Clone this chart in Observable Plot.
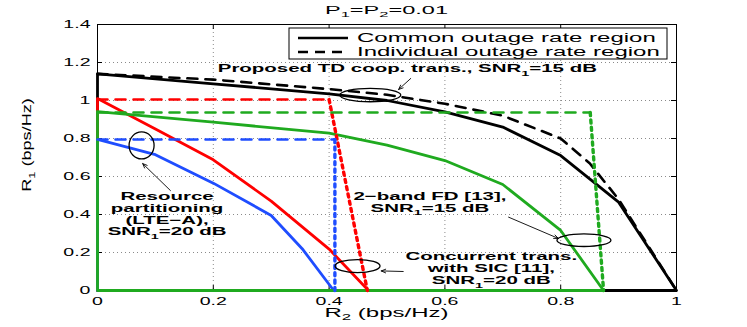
<!DOCTYPE html>
<html><head><meta charset="utf-8">
<script src="https://cdn.jsdelivr.net/npm/d3@7"></script>
<script src="https://cdn.jsdelivr.net/npm/@observablehq/plot@0.6"></script>
<style>body{margin:0;background:#fff} #chart{width:747px;height:327px}</style>
</head><body><div id="chart"></div>
<script>
// ---------- data ----------
const xTicks = [0, 0.2, 0.4, 0.6, 0.8, 1];
const xTickLabels = ["0", "0.2", "0.4", "0.6", "0.8", "1"];
const yTicks = [0, 0.2, 0.4, 0.6, 0.8, 1, 1.2, 1.4];
const yTickLabels = ["0", "0.2", "0.4", "0.6", "0.8", "1", "1.2", "1.4"];

// Proposed TD cooperative transmission (black)
const tdCommonR2 = [0, 0, 0.2, 0.4, 0.5, 0.6, 0.7, 0.8, 0.9, 1, 0];
const tdCommonR1 = [0, 1.14, 1.088, 1.035, 1.0, 0.94, 0.86, 0.71, 0.465, 0, 0];
const tdIndivR2 = [0, 0.2, 0.4, 0.5, 0.6, 0.7, 0.8, 0.85, 0.9, 1];
const tdIndivR1 = [1.14, 1.11, 1.06, 1.03, 0.983, 0.92, 0.80, 0.67, 0.48, 0];

// Concurrent transmission with SIC (red)
const sicCommonR2 = [0, 0, 0.1, 0.2, 0.3, 0.4, 0.468, 0];
const sicCommonR1 = [0, 1.01, 0.85, 0.688, 0.47, 0.218, 0, 0];
const sicIndivHR2 = [0, 0.4];
const sicIndivHR1 = [1.005, 1.005];
const sicIndivVR2 = [0.4, 0.466];
const sicIndivVR1 = [1.005, 0];

// Resource partitioning (blue)
const rpCommonR2 = [0, 0, 0.1, 0.2, 0.3, 0.3535, 0.408, 0];
const rpCommonR1 = [0, 0.795, 0.715, 0.565, 0.395, 0.22, 0, 0];
const rpIndivHR2 = [0, 0.41];
const rpIndivHR1 = [0.795, 0.795];
const rpIndivVR2 = [0.41, 0.41];
const rpIndivVR1 = [0.795, 0];

// 2-band FD (green)
const fdCommonR2 = [0, 0, 0.2, 0.4, 0.5, 0.6, 0.7, 0.8, 0.874, 0];
const fdCommonR1 = [0, 0.942, 0.886, 0.828, 0.765, 0.684, 0.558, 0.316, 0, 0];
const fdIndivHR2 = [0, 0.851];
const fdIndivHR1 = [0.937, 0.937];
const fdIndivVR2 = [0.851, 0.874];
const fdIndivVR1 = [0.937, 0];

// texts
const titleParts = [["P"], ["1", 1], ["=P"], ["2", 1], ["=0.01"]];
const xLabelParts = [["R"], ["2", 1], [" (bps/Hz)"]];
const yLabelParts = [["R"], ["1", 1], [" (bps/Hz)"]];
const legendLabels = ["Common outage rate region", "Individual outage rate region"];

// annotations: text lines (anchor in data units), ellipses, arrows
const annoTextX = [0.536, 0.121, 0.121, 0.121, 0.121, 0.575, 0.575, 0.681, 0.681, 0.681];
const annoTextY = [1.145, 0.476, 0.413, 0.350, 0.287, 0.476, 0.413, 0.160, 0.095, 0.030];
const annoTextParts = [
  [["Proposed TD coop. trans., SNR"], ["1", 1], ["=15 dB"]],
  [["Resource"]],
  [["partitioning"]],
  [["(LTE\u2212A),"]],
  [["SNR"], ["1", 1], ["=20 dB"]],
  [["2\u2212band FD [13],"]],
  [["SNR"], ["1", 1], ["=15 dB"]],
  [["Concurrent trans."]],
  [["with SIC [11],"]],
  [["SNR"], ["1", 1], ["=20 dB"]]
];
const ellipseX = [0.472, 0.077, 0.45, 0.841];
const ellipseY = [1.026, 0.761, 0.126, 0.262];
const arrowX1 = [0.541, 0.126, 0.528, 0.71];
const arrowY1 = [1.116, 0.526, 0.100, 0.386];
const arrowX2 = [0.520, 0.078, 0.490, 0.796];
const arrowY2 = [1.058, 0.668, 0.103, 0.274];

// ---------- build ----------
const pts = (xs, ys) => xs.map((x, i) => ({x, y: ys[i]}));
const FONT = "Liberation Sans, Arial, Helvetica, sans-serif";
const RED = "#ff0000", BLUE = "#1f4dff", GREEN = "#1faa1f";
const W = 747, H = 327, ML = 97, MR = 71, MT = 24, MB = 37;
const FW = W - ML - MR, FH = H - MT - MB;
const xLab = new Map(xTicks.map((t, i) => [t, xTickLabels[i]]));
const yLab = new Map(yTicks.map((t, i) => [t, yTickLabels[i]]));
const solid = {x: "x", y: "y", strokeWidth: 2.8, strokeLinejoin: "round"};
const dashH = {x: "x", y: "y", strokeWidth: 2.6, strokeDasharray: "10,8"};
const dotV = {x: "x", y: "y", strokeWidth: 3.4, strokeDasharray: "3.2,4.2"};
const arrows = arrowX1.map((v, i) => ({x1: v, y1: arrowY1[i], x2: arrowX2[i], y2: arrowY2[i]}));

const plot = Plot.plot({
  width: W, height: H,
  marginLeft: ML, marginRight: MR, marginTop: MT, marginBottom: MB,
  style: {fontFamily: FONT, fontSize: "11.5px", background: "white", color: "black"},
  x: {domain: [0, 1]},
  y: {domain: [0, 1.4]},
  marks: [
    Plot.gridX(xTicks, {stroke: "#8a8a8a", strokeOpacity: 1, strokeDasharray: "1,3"}),
    Plot.gridY(yTicks, {stroke: "#8a8a8a", strokeOpacity: 1, strokeDasharray: "1,3"}),
    Plot.frame({stroke: "black"}),
    Plot.tickX(xTicks, {x: d => d, insetTop: FH - 5, stroke: "black"}),
    Plot.tickX(xTicks, {x: d => d, insetBottom: FH - 5, stroke: "black"}),
    Plot.tickY(yTicks, {y: d => d, insetRight: FW - 5, stroke: "black"}),
    Plot.tickY(yTicks, {y: d => d, insetLeft: FW - 5, stroke: "black"}),
    Plot.line(pts(tdCommonR2, tdCommonR1), {...solid, stroke: "black"}),
    Plot.line(pts(sicCommonR2, sicCommonR1), {...solid, stroke: RED}),
    Plot.line(pts(rpCommonR2, rpCommonR1), {...solid, stroke: BLUE}),
    Plot.line(pts(fdCommonR2, fdCommonR1), {...solid, stroke: GREEN}),
    Plot.line(pts(tdIndivR2, tdIndivR1), {...dashH, stroke: "black"}),
    Plot.line(pts(sicIndivHR2, sicIndivHR1), {...dashH, stroke: RED}),
    Plot.line(pts(sicIndivVR2, sicIndivVR1), {...dotV, stroke: RED}),
    Plot.line(pts(rpIndivHR2, rpIndivHR1), {...dashH, stroke: BLUE}),
    Plot.line(pts(rpIndivVR2, rpIndivVR1), {...dotV, stroke: BLUE}),
    Plot.line(pts(fdIndivHR2, fdIndivHR1), {...dashH, stroke: GREEN}),
    Plot.line(pts(fdIndivVR2, fdIndivVR1), {...dotV, stroke: GREEN}),
    Plot.arrow(arrows, {x1: "x1", y1: "y1", x2: "x2", y2: "y2", stroke: "black", strokeWidth: 0.9, headLength: 8, headAngle: 45}),
    Plot.axisX(xTicks, {tickSize: 0, tickPadding: 6, tickFormat: d => xLab.get(d), label: null, fontSize: 11.5}),
    Plot.axisY(yTicks, {tickSize: 0, tickPadding: 7, tickFormat: d => yLab.get(d), label: null, fontSize: 11.5})
  ]
});
document.getElementById("chart").appendChild(plot);

const svg = d3.select(plot);
// stretch tick labels horizontally (wide glyphs in the reference)
svg.selectAll("text").each(function () {
  const x = +this.getAttribute("x") || 0;
  const t = this.getAttribute("transform") || "";
  this.setAttribute("transform", `${t} translate(${x},0) scale(1.7,1) translate(${-x},0)`);
});

const sx = plot.scale("x"), sy = plot.scale("y");
const X = v => sx.apply(v), Y = v => sy.apply(v);

function rich(parent, x, y, parts, {size, weight = "normal", anchor = "middle", stretch = 1, rotate = 0}) {
  const t = parent.append("text")
    .attr("transform", `translate(${x},${y})${rotate ? ` rotate(${rotate})` : ""} scale(${stretch},1)`)
    .attr("text-anchor", anchor).attr("font-size", size).attr("font-weight", weight)
    .attr("font-family", FONT).attr("fill", "black");
  let shifted = false;
  for (const [s, sub] of parts) {
    const ts = t.append("tspan").text(s);
    if (sub && !shifted) { ts.attr("dy", size * 0.3).attr("font-size", size * 0.7); shifted = true; }
    else if (sub) { ts.attr("font-size", size * 0.7); }
    else if (shifted) { ts.attr("dy", -size * 0.3); shifted = false; }
  }
  return t;
}

const g = svg.append("g");
// ellipses
const ellRx = [30.5, 12.5, 22.5, 27], ellRy = [6.7, 13.5, 6.5, 6.3];
ellipseX.forEach((v, i) => {
  g.append("ellipse").attr("cx", X(v)).attr("cy", Y(ellipseY[i]))
    .attr("rx", ellRx[i]).attr("ry", ellRy[i])
    .attr("fill", "none").attr("stroke", "black").attr("stroke-width", 1.3);
});
// annotation texts
annoTextParts.forEach((p, i) => {
  rich(g, X(annoTextX[i]), Y(annoTextY[i]), p, {size: 11.5, weight: "bold", stretch: 1.78});
});
// title and axis labels
rich(g, ML + FW / 2, 13.5, titleParts, {size: 11.5, stretch: 2.05});
rich(g, ML + FW / 2, 316.5, xLabelParts, {size: 12, stretch: 2.0});
rich(g, 31, MT + FH / 2 - 12, yLabelParts, {size: 12.5, rotate: -90, stretch: 1.45});

// legend
const lgR = ML + FW - 9, lgT = MT + 4, lgW = 378, lgH = 31;
const lgL = lgR - lgW;
g.append("rect").attr("x", lgL).attr("y", lgT).attr("width", lgW).attr("height", lgH)
  .attr("fill", "white").attr("stroke", "black").attr("stroke-width", 1);
legendLabels.forEach((lab, i) => {
  const yy = lgT + 10 + i * 14;
  g.append("line").attr("x1", lgL + 9).attr("x2", lgL + 59).attr("y1", yy).attr("y2", yy)
    .attr("stroke", "black").attr("stroke-width", 2.6)
    .attr("stroke-dasharray", i ? "10,7" : null);
  rich(g, lgL + 68, yy + 4, [[lab]], {size: 12, anchor: "start", stretch: 2.0});
});
</script>
</body></html>
